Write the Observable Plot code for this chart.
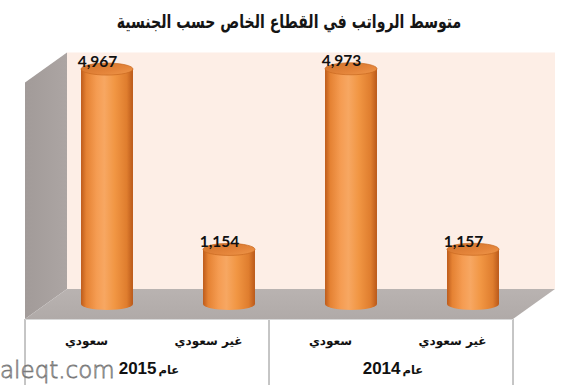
<!DOCTYPE html>
<html><head><meta charset="utf-8">
<script src="https://cdn.jsdelivr.net/npm/d3@7"></script>
<script src="https://cdn.jsdelivr.net/npm/@observablehq/plot@0.6"></script>
<style>
html,body{margin:0;padding:0;background:#fff}
body{width:570px;height:385px;overflow:hidden;position:relative}
#title{height:40px;line-height:42px;text-align:center;font-weight:bold;font-size:19px;font-family:"DejaVu Sans",sans-serif;direction:rtl;color:#151515;transform:translateX(4px) scaleX(0.74);transform-origin:center}
#chart svg{display:block}
#wm{position:absolute;left:0px;top:359px;font-size:23px;font-family:"DejaVu Sans",sans-serif;font-weight:200;color:#f6f6f6;-webkit-text-stroke:0.8px #7a7a7a;line-height:23px}
</style></head><body>
<div id="title">متوسط الرواتب في القطاع الخاص حسب الجنسية</div>
<div id="chart"></div>
<div id="wm">aleqt.com</div>
<script>
// ---- data ----
const years = ["2015", "2015", "2014", "2014"];
const categories = ["سعودي", "غير سعودي", "سعودي", "غير سعودي"];
const values = [4967, 1154, 4973, 1157];
const yearLabels = ["2015", "2014"];
const yearPrefix = "عام";
const yMax = 5000;

const data = values.map((v, i) => ({id: i, cat: categories[i], year: years[i], value: v}));
const groups = yearLabels.map((y, g) => ({id: data.findIndex(d => d.year === y), year: y}));

// ---- layout ----
const W = 570, H = 345, ML = 46, MR = 36, MT = 27.5, MB = 81;
const DX = 21, DY = 15; // half depth offset of the 3D box
const BW = (W - ML - MR) / values.length;

function walls(index, scales, vals, dims) {
  const {x, y} = scales;
  const bw = x.bandwidth ? x.bandwidth() : BW;
  const x0 = x(0), x1 = x(values.length - 1) + bw;
  const yb = y(0), yt = y(yMax);
  const g = d3.create("svg:g");
  const defs = g.append("defs");
  const lg = defs.append("linearGradient").attr("id", "wallGrad").attr("x1", 0).attr("x2", 1).attr("y1", 0).attr("y2", 0);
  lg.append("stop").attr("offset", "0%").attr("stop-color", "#a29b99");
  lg.append("stop").attr("offset", "100%").attr("stop-color", "#aca5a3");
  const fg = defs.append("linearGradient").attr("id", "floorGrad").attr("x1", 0).attr("x2", 0).attr("y1", 0).attr("y2", 1);
  fg.append("stop").attr("offset", "0%").attr("stop-color", "#b9b3b1");
  fg.append("stop").attr("offset", "100%").attr("stop-color", "#b0aaa8");
  g.append("rect").attr("x", x0 + DX).attr("y", yt - DY).attr("width", x1 - x0).attr("height", yb - yt).attr("fill", "#fdeee6");
  g.append("path").attr("d", `M${x0 - DX},${yt + DY}L${x0 + DX},${yt - DY}L${x0 + DX},${yb - DY}L${x0 - DX},${yb + DY}Z`).attr("fill", "url(#wallGrad)");
  g.append("path").attr("d", `M${x0 + DX},${yb - DY}L${x1 + DX},${yb - DY}L${x1 - DX},${yb + DY}L${x0 - DX},${yb + DY}Z`).attr("fill", "url(#floorGrad)");
  const seps = [x0, x(2), x1];
  for (const xs of seps) {
    g.append("line").attr("x1", xs - DX).attr("x2", xs - DX).attr("y1", yb + DY).attr("y2", dims.height)
      .attr("stroke", "#8c8c8c").attr("stroke-width", 1);
  }
  g.append("line").attr("x1", x0 - DX).attr("x2", x1 - DX).attr("y1", yb + DY + 0.5).attr("y2", yb + DY + 0.5)
    .attr("stroke", "#d8d8d8").attr("stroke-width", 1);
  return g.node();
}

function cylinders(index, scales, vals, dims) {
  const {x, y} = scales;
  const bw = x.bandwidth ? x.bandwidth() : BW;
  const rx = bw * 0.213, ry = 6;
  const g = d3.create("svg:g");
  const defs = g.append("defs");
  const bg = defs.append("linearGradient").attr("id", "cylBody").attr("x1", 0).attr("x2", 1).attr("y1", 0).attr("y2", 0);
  [["0%", "#bd5b1b"], ["10%", "#e58233"], ["30%", "#f59c52"], ["45%", "#f7a762"], ["65%", "#f19643"], ["88%", "#df7d2e"], ["100%", "#ba591a"]]
    .forEach(([o, c]) => bg.append("stop").attr("offset", o).attr("stop-color", c));
  const tg = defs.append("linearGradient").attr("id", "cylTop").attr("x1", 0).attr("x2", 1).attr("y1", 0).attr("y2", 1);
  [["0%", "#cf712a"], ["60%", "#e4843a"], ["100%", "#ef974a"]]
    .forEach(([o, c]) => tg.append("stop").attr("offset", o).attr("stop-color", c));
  for (const d of data) {
    const cx = x(d.id) + bw / 2, yt = y(d.value), yb = y(0);
    g.append("path")
      .attr("d", `M${cx - rx},${yt}L${cx - rx},${yb}A${rx},${ry} 0 0 0 ${cx + rx},${yb}L${cx + rx},${yt}Z`)
      .attr("fill", "url(#cylBody)");
    g.append("ellipse").attr("cx", cx).attr("cy", yt).attr("rx", rx).attr("ry", ry)
      .attr("fill", "url(#cylTop)").attr("stroke", "#c8681f").attr("stroke-width", 0.7);
  }
  return g.node();
}

const fmt = d3.format(",");

const chart = Plot.plot({
  width: W, height: H,
  marginLeft: ML, marginRight: MR, marginTop: MT, marginBottom: MB,
  x: {type: "band", domain: data.map(d => d.id), padding: 0, axis: null},
  y: {domain: [0, yMax], axis: null},
  marks: [
    walls,
    cylinders,
    Plot.text(data, {x: "id", y: "value", text: d => fmt(d.value), dx: -10, dy: -8,
      fontSize: 15.5, fontWeight: "bold", fontFamily: "Lato", fill: "#111"}),
    Plot.text(data, {x: "id", text: "cat", frameAnchor: "bottom", dx: -DX, dy: 40,
      fontSize: 12, fontWeight: "bold", fontFamily: "DejaVu Sans", fill: "#111"}),
    Plot.text(groups, {x: "id", text: "year", frameAnchor: "bottom", dx: BW / 2 - DX + 9, dy: 69,
      textAnchor: "end", fontSize: 17, fontWeight: "bold", fontFamily: "Liberation Sans", fill: "#111"}),
    Plot.text(groups, {x: "id", text: () => yearPrefix, frameAnchor: "bottom", dx: BW / 2 - DX + 11, dy: 69,
      textAnchor: "start", fontSize: 11.5, fontWeight: "bold", fontFamily: "DejaVu Sans", fill: "#111"})
  ]
});
document.getElementById("chart").appendChild(chart);
</script>
</body></html>
